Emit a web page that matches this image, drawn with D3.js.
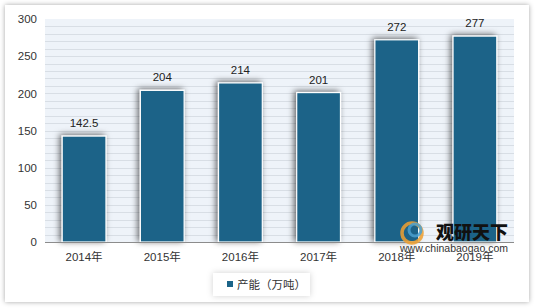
<!DOCTYPE html>
<meta charset="utf-8">
<script src="https://d3js.org/d3.v7.min.js"></script>
<style>
body { margin: 0; background: #fff; }
text { font-family: "Liberation Sans", "Noto Sans CJK SC", sans-serif; }
</style>
<div id="my_dataviz"></div>
<script>

// data
var years = ["2014年", "2015年", "2016年", "2017年", "2018年", "2019年"];
var capacity = [142.5, 204, 214, 201, 272, 277];
var valueLabels = ["142.5", "204", "214", "201", "272", "277"];
var yTicks = [0, 50, 100, 150, 200, 250, 300];
var seriesName = "产能（万吨）";

var W = 535, H = 308;
var margin = {top: 19, right: 21, bottom: 66, left: 45},
    width = W - margin.left - margin.right,
    height = H - margin.top - margin.bottom;

var root = d3.select("#my_dataviz")
  .append("svg")
    .attr("width", W)
    .attr("height", H);

var defs = root.append("defs");
var card = defs.append("filter").attr("id", "cardShadow")
  .attr("x", "-5%").attr("y", "-5%").attr("width", "110%").attr("height", "110%");
card.append("feDropShadow").attr("dx", 0).attr("dy", 0).attr("stdDeviation", 2.5)
  .attr("flood-color", "#000").attr("flood-opacity", 0.35);

var barSh = defs.append("filter").attr("id", "barShadow")
  .attr("x", "-40%").attr("y", "-20%").attr("width", "180%").attr("height", "140%");
barSh.append("feDropShadow").attr("dx", -2).attr("dy", -1).attr("stdDeviation", 3)
  .attr("flood-color", "#000").attr("flood-opacity", 0.6);

var legSh = defs.append("filter").attr("id", "legShadow")
  .attr("x", "-20%").attr("y", "-40%").attr("width", "140%").attr("height", "180%");
legSh.append("feDropShadow").attr("dx", 0).attr("dy", 0).attr("stdDeviation", 3)
  .attr("flood-color", "#000").attr("flood-opacity", 0.18);

// outer card
root.append("rect")
  .attr("x", 5).attr("y", 5).attr("width", 524).attr("height", 297)
  .attr("fill", "#fff")
  .attr("filter", "url(#cardShadow)");

var svg = root.append("g")
  .attr("transform", "translate(" + margin.left + "," + margin.top + ")");

var x = d3.scaleBand()
  .domain(years)
  .range([0, width])
  .paddingInner(0.44)
  .paddingOuter(0.22);

var y = d3.scaleLinear()
  .domain([0, 300])
  .range([height, 0]);

// plot background + minor gridlines
svg.append("rect")
  .attr("width", width).attr("height", height)
  .attr("fill", "#eef3f9");

svg.append("g")
  .selectAll("line")
  .data(d3.range(10, 300, 10))
  .enter()
  .append("line")
    .attr("x1", 0).attr("x2", width)
    .attr("y1", function(d){ return Math.round(y(d)) + 0.5; })
    .attr("y2", function(d){ return Math.round(y(d)) + 0.5; })
    .attr("stroke", "#d8dee5")
    .attr("stroke-width", 1);

// bars
svg.append("g")
  .selectAll("rect")
  .data(capacity)
  .enter()
  .append("rect")
    .attr("x", function(d, i){ return x(years[i]); })
    .attr("y", function(d){ return y(d); })
    .attr("width", x.bandwidth())
    .attr("height", function(d){ return height - y(d); })
    .attr("fill", "#1b6488")
    .attr("stroke", "#fff")
    .attr("stroke-width", 1.2)
    .attr("filter", "url(#barShadow)");

// value labels
svg.append("g")
  .selectAll("text")
  .data(capacity)
  .enter()
  .append("text")
    .attr("x", function(d, i){ return x(years[i]) + x.bandwidth() / 2; })
    .attr("y", function(d){ return y(d) - 9; })
    .attr("text-anchor", "middle")
    .style("font-size", "11.5px")
    .style("fill", "#222")
    .text(function(d, i){ return valueLabels[i]; });

// x axis baseline
svg.append("line")
  .attr("x1", 0).attr("x2", width)
  .attr("y1", height + 0.5).attr("y2", height + 0.5)
  .attr("stroke", "#8c8c8c");

// y axis
var yAxis = svg.append("g")
  .call(d3.axisLeft(y).tickValues(yTicks).tickSize(0).tickPadding(8));
yAxis.select(".domain").remove();
yAxis.selectAll("text")
  .style("font-size", "11.5px")
  .style("fill", "#333")
  .style("font-family", "Liberation Sans, sans-serif");

// x axis labels
var xAxis = svg.append("g")
  .attr("transform", "translate(0," + height + ")")
  .call(d3.axisBottom(x).tickSize(0).tickPadding(11));
xAxis.select(".domain").remove();
xAxis.selectAll("text")
  .style("font-size", "11.5px")
  .style("fill", "#333")
  .style("font-family", "Liberation Sans, Noto Sans CJK SC, sans-serif");

// watermark
var wm = root.append("g").attr("transform", "translate(399,220)");
wm.append("circle").attr("cx", 13).attr("cy", 13).attr("r", 10)
  .attr("fill", "none").attr("stroke", "#f0a030").attr("stroke-width", 3.5).attr("opacity", 0.85);
wm.append("circle").attr("cx", 16).attr("cy", 10).attr("r", 6)
  .attr("fill", "none").attr("stroke", "#4aa0d0").attr("stroke-width", 3).attr("opacity", 0.85);
wm.append("text")
  .attr("x", 37).attr("y", 19)
  .style("font-family", "Noto Sans CJK SC, sans-serif")
  .style("font-weight", "900")
  .style("font-size", "18px")
  .style("fill", "#111")
  .text("观研天下");
wm.append("text")
  .attr("x", 1).attr("y", 32)
  .style("font-size", "10.5px")
  .style("fill", "#333")
  .text("www.chinabaogao.com");

// legend
var leg = root.append("g").attr("transform", "translate(213,273)");
leg.append("rect")
  .attr("width", 97).attr("height", 23)
  .attr("fill", "#fff")
  .attr("filter", "url(#legShadow)");
leg.append("rect")
  .attr("x", 14).attr("y", 8).attr("width", 6).attr("height", 6)
  .attr("fill", "#1b6488");
leg.append("text")
  .attr("x", 24).attr("y", 16)
  .style("font-size", "11.5px")
  .style("fill", "#333")
  .style("font-family", "Noto Sans CJK SC, sans-serif")
  .text(seriesName);

</script>
